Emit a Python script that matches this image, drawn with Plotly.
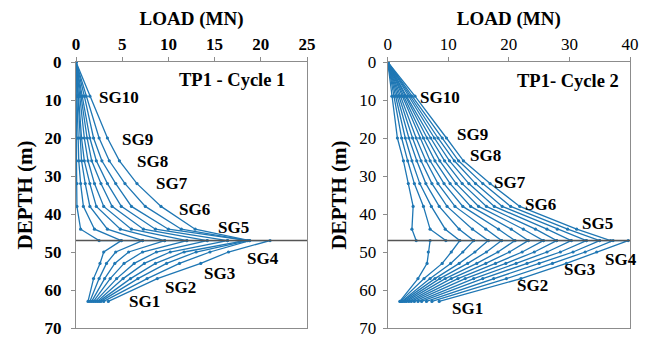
import plotly.graph_objects as go

# ---------------- data ----------------
DEPTHS = [0, 9, 20, 26, 32, 38, 44, 47, 47, 50, 53, 57, 63]
JACK_DEPTH = 47

CYCLE1_CURVES = [
    [0, 0.05, 0.05, 0.05, 0.1, 0.1, 0.5, 2.5, 4.9, 3.0, 2.6, 1.9, 1.3],
    [0, 0.1, 0.2, 0.3, 0.5, 0.8, 2.0, 4.9, 7.2, 4.3, 3.3, 2.5, 1.5],
    [0, 0.2, 0.4, 0.6, 1.0, 1.5, 3.4, 7.2, 9.6, 5.7, 4.2, 3.1, 1.7],
    [0, 0.3, 0.6, 0.9, 1.5, 2.2, 4.8, 9.6, 12.0, 7.2, 5.2, 3.7, 1.9],
    [0, 0.4, 0.9, 1.3, 2.0, 3.0, 6.0, 12.0, 14.2, 8.7, 6.3, 4.4, 2.1],
    [0, 0.55, 1.2, 1.7, 2.7, 3.9, 7.3, 14.2, 16.4, 10.2, 7.4, 5.1, 2.3],
    [0, 0.7, 1.5, 2.2, 3.4, 4.9, 8.6, 16.4, 18.3, 11.7, 8.6, 5.9, 2.5],
    [0, 0.9, 1.9, 2.8, 4.3, 6.0, 10.0, 18.3, 18.6, 13.0, 9.8, 6.7, 2.7],
    [0, 1.1, 2.5, 3.6, 5.3, 7.5, 11.4, 18.6, 18.8, 14.5, 11.2, 7.7, 3.0],
    [0, 1.5, 3.4, 4.7, 6.6, 9.2, 12.9, 18.8, 21.0, 16.5, 13.5, 8.8, 3.5],
]

CYCLE2_CURVES = [
    [0, 0.7, 1.6, 2.6, 3.4, 4.2, 4.0, 4.7, 7.0, 6.7, 6.5, 5.0, 2.0],
    [0, 1.0, 2.3, 3.3, 4.4, 5.9, 7.0, 9.6, 11.9, 10.5, 9.0, 6.0, 2.1],
    [0, 1.3, 2.9, 4.0, 5.3, 7.2, 9.5, 11.9, 14.2, 12.4, 10.4, 7.0, 2.3],
    [0, 1.6, 3.5, 4.8, 6.3, 8.5, 11.8, 14.2, 16.6, 14.4, 11.8, 7.8, 2.5],
    [0, 1.9, 4.1, 5.5, 7.3, 9.8, 14.0, 16.6, 18.8, 16.3, 13.2, 8.6, 2.8],
    [0, 2.1, 4.7, 6.3, 8.3, 11.1, 16.2, 18.8, 21.0, 18.2, 14.7, 9.5, 3.1],
    [0, 2.4, 5.3, 7.0, 9.3, 12.4, 18.3, 21.0, 23.2, 20.1, 16.2, 10.5, 3.5],
    [0, 2.6, 5.9, 7.8, 10.3, 13.7, 20.4, 23.2, 25.7, 22.2, 17.8, 11.6, 3.9],
    [0, 2.9, 6.5, 8.6, 11.3, 15.0, 22.4, 25.7, 27.9, 24.2, 19.5, 12.8, 4.4],
    [0, 3.1, 7.1, 9.4, 12.3, 16.3, 24.4, 27.9, 30.3, 26.3, 21.2, 14.2, 5.0],
    [0, 3.4, 7.7, 10.2, 13.4, 17.6, 26.3, 30.3, 32.8, 28.5, 23.0, 15.7, 5.6],
    [0, 3.7, 8.3, 11.0, 14.5, 18.9, 28.0, 32.8, 35.0, 30.6, 25.0, 17.5, 6.4],
    [0, 4.0, 9.0, 11.7, 15.7, 20.3, 29.7, 35.0, 37.2, 32.6, 27.2, 19.6, 7.3],
    [0, 4.5, 9.7, 12.5, 16.9, 21.8, 31.2, 36.8, 39.7, 34.5, 29.5, 22.0, 8.5],
]

GAUGE_LABELS = ["SG10", "SG9", "SG8", "SG7", "SG6", "SG5", "SG4", "SG3", "SG2", "SG1"]
C1_LABEL_LOAD = [2.3, 4.8, 6.4, 8.4, 10.9, 15.2, 18.3, 13.6, 9.4, 5.5]
C1_LABEL_DEPTH = [9.4, 20.5, 26.2, 32.1, 38.8, 43.6, 51.7, 55.6, 59.3, 63.1]
C2_LABEL_LOAD = [5.0, 11.1, 13.3, 17.2, 22.4, 31.7, 35.6, 28.7, 21.0, 10.3]
C2_LABEL_DEPTH = [9.3, 19.2, 24.7, 31.8, 37.4, 42.6, 52.1, 54.7, 58.7, 64.8]

C1_TITLE = "TP1 - Cycle 1"
C2_TITLE = "TP1- Cycle 2"
C1_XMAX, C2_XMAX = 25, 40
C1_DTICK, C2_DTICK = 5, 10
DEPTH_MAX = 70

# ---------------- style ----------------
BLUE = "#1f77b4"
SERIF = "Liberation Serif, Times New Roman, serif"
OFF = 8                    # page body margin
W, H = 648 - OFF, 338 - OFF


def px_x(p):
    return (p - OFF) / W


def px_y(p):
    return 1 - (p - OFF) / H


fig = go.Figure()

for curves, xa, ya in [(CYCLE1_CURVES, "x", "y"), (CYCLE2_CURVES, "x2", "y2")]:
    for c in curves:
        fig.add_trace(go.Scatter(
            x=c, y=DEPTHS, xaxis=xa, yaxis=ya, mode="lines+markers",
            line=dict(color=BLUE, width=1.3),
            marker=dict(color=BLUE, size=3.2),
            showlegend=False, hoverinfo="skip"))

# jack level line
for xd, ya in [("x domain", "y"), ("x2 domain", "y2")]:
    fig.add_shape(type="line", xref=xd, yref=ya, x0=0, x1=1,
                  y0=JACK_DEPTH, y1=JACK_DEPTH, line=dict(color="#555555", width=1.5),
                  layer="above")

# gauge labels
for labels_x, labels_y, xa, ya in [(C1_LABEL_LOAD, C1_LABEL_DEPTH, "x", "y"),
                                   (C2_LABEL_LOAD, C2_LABEL_DEPTH, "x2", "y2")]:
    for lab, lx, ly in zip(GAUGE_LABELS, labels_x, labels_y):
        fig.add_annotation(x=lx, y=ly, xref=xa, yref=ya, text="<b>%s</b>" % lab,
                           showarrow=False, xanchor="left", yanchor="middle",
                           font=dict(family=SERIF, size=17, color="black"))

fig.add_annotation(x=0.437, y=4.7, xref="x domain", yref="y", text="<b>%s</b>" % C1_TITLE,
                   showarrow=False, xanchor="left", yanchor="middle",
                   font=dict(family=SERIF, size=18.5, color="black"))
fig.add_annotation(x=0.525, y=4.9, xref="x2 domain", yref="y2", text="<b>%s</b>" % C2_TITLE,
                   showarrow=False, xanchor="left", yanchor="middle",
                   font=dict(family=SERIF, size=18.5, color="black"))

axis_common = dict(showgrid=False, zeroline=False, showline=True, mirror=True,
                   linecolor="#8c8c8c", linewidth=1, ticks="outside", ticklen=4,
                   tickcolor="#8c8c8c", automargin=False)

fig.update_layout(
    width=W, height=H, margin=dict(l=0, r=0, t=0, b=0, autoexpand=False),
    paper_bgcolor="white", plot_bgcolor="white",
    font=dict(family=SERIF, color="black"),
    xaxis=dict(domain=[px_x(76), px_x(307)], range=[0, C1_XMAX], dtick=C1_DTICK, side="top",
               anchor="y",
               tickfont=dict(family=SERIF, size=17, color="black", weight="bold"),
               title=dict(text="<b>LOAD (MN)</b>", standoff=4,
                          font=dict(family=SERIF, size=19, color="black")),
               **axis_common),
    yaxis=dict(domain=[px_y(328), px_y(62)], range=[DEPTH_MAX, 0], dtick=10,
               anchor="x", ticklabelstandoff=6,
               tickfont=dict(family=SERIF, size=17, color="black", weight="bold"),
               title=dict(text="<b>DEPTH (m)</b>", standoff=6,
                          font=dict(family=SERIF, size=21, color="black")),
               **axis_common),
    xaxis2=dict(domain=[px_x(387.7), px_x(630)], range=[0, C2_XMAX], dtick=C2_DTICK, side="top",
                anchor="y2",
                tickfont=dict(family=SERIF, size=17, color="black"),
                title=dict(text="<b>LOAD (MN)</b>", standoff=4,
                           font=dict(family=SERIF, size=19, color="black")),
                **axis_common),
    yaxis2=dict(domain=[px_y(328), px_y(62)], range=[DEPTH_MAX, 0], dtick=10,
                anchor="x2", ticklabelstandoff=3,
                tickfont=dict(family=SERIF, size=17, color="black"),
                title=dict(text="<b>DEPTH (m)</b>", standoff=6,
                           font=dict(family=SERIF, size=21, color="black")),
                **axis_common),
)

fig.write_html("out.html")
